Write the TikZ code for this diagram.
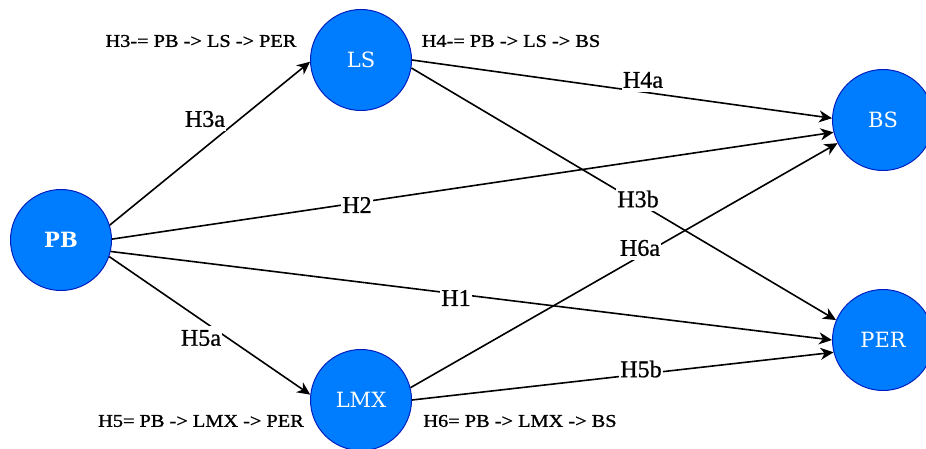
\documentclass[tikz,border=0pt]{standalone}
\usepackage{fontspec}
\setmainfont{Liberation Serif}
\newfontfamily\nodefont{DejaVu Serif}
\newfontfamily\labfont[FakeBold=0.8]{Liberation Serif}
\newfontfamily\smallfont[FakeStretch=1.13,FakeBold=1.2]{Liberation Serif}
\usetikzlibrary{arrows.meta}
\definecolor{nodefill}{RGB}{0,125,255}
\definecolor{nodeline}{RGB}{0,30,190}
\tikzset{
  var/.style={circle, draw=nodeline, line width=1pt, fill=nodefill, minimum size=101pt, inner sep=0pt,
    text=white, font=\nodefont\fontsize{21}{23}\selectfont},
  conn/.style={draw=black, line width=1.6pt, -{Stealth[length=13pt,width=12pt,inset=4pt]}},
  elabel/.style={fill=white, inner xsep=1pt, inner ysep=4pt, font=\labfont\fontsize{24}{26}\selectfont},
  hyp/.style={inner sep=0pt, font=\smallfont\fontsize{18}{20}\selectfont}
}
\begin{document}
\begin{tikzpicture}[x=1pt,y=-1pt]
\useasboundingbox (0,0) rectangle (926,449);
% nodes
\node[var, font=\nodefont\bfseries\fontsize{21}{23}\selectfont] (PB) at (61,240) {PB};
\node[var] (LS) at (361,60) {LS};
\node[var] (BS) at (883,120) {BS};
\node[var] (PER) at (883,340) {PER};
\node[var] (LMX) at (361,400) {LMX};
% connectors
\draw[conn] (PB.17) -- (LS.182);
\draw[conn] (PB.1) -- (BS.194);
\draw[conn] (PB.-13) -- (PER.180);
\draw[conn] (PB.-19) -- (LMX.174);
\draw[conn] (LS.0) -- (BS.178);
\draw[conn] (LS.-9) -- (PER.157);
\draw[conn] (LMX.14) -- (BS.207);
\draw[conn] (LMX.0) -- (PER.194);
% edge labels
\node[elabel] (lH3a) at (205,119) {H3a};
\node[elabel] (lH2) at (357,205) {H2};
\node[elabel] (lH1) at (456,298) {H1};
\node[elabel] (lH5a) at (201,338) {H5a};
\node[elabel] (lH4a) at (643,80) {H4a};
\node[elabel] (lH3b) at (638,199) {H3b};
\node[elabel] (lH6a) at (640,248) {H6a};
\node[elabel] (lH5b) at (641,369) {H5b};
% hypothesis texts
\node[hyp] (tH3) at (201,41) {H3-= PB -> LS -> PER};
\node[hyp] (tH4) at (511,41) {H4-= PB -> LS -> BS};
\node[hyp] (tH5) at (201,421) {H5= PB -> LMX -> PER};
\node[hyp] (tH6) at (520,421) {H6= PB -> LMX -> BS};
\end{tikzpicture}
\end{document}
